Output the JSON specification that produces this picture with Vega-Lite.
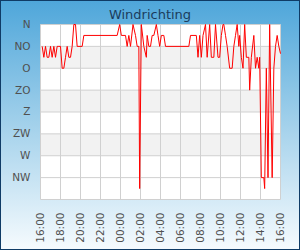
{
  "$schema": "https://vega.github.io/schema/vega-lite/v6.json",
  "width": 300,
  "height": 250,
  "autosize": {"type": "none"},
  "padding": 0,
  "background": "#a6d2ec",
  "view": {
    "fill": {"gradient": "linear", "x1": 0, "y1": 0, "x2": 0, "y2": 1,
      "stops": [{"offset": 0, "color": "#4ea6da"}, {"offset": 0.5, "color": "#a3d1eb"}, {"offset": 1, "color": "#f6fbfe"}]},
    "stroke": "#0f3b66",
    "strokeWidth": 2
  },
  "title": {"text": "Windrichting", "font": "DejaVu Sans", "fontSize": 13, "fontWeight": "normal", "color": "#1b3c5c", "anchor": "middle", "frame": "group", "offset": -32, "baseline": "alphabetic"},
  "config": {
    "axisX": {
      "orient": "bottom", "offset": -50, "domain": false, "ticks": false, "grid": false,
      "labelAngle": 270, "labelAlign": "right", "labelBaseline": "middle",
      "labelPadding": 12, "labelFont": "DejaVu Sans", "labelFontSize": 10.5, "labelColor": "#505050",
      "labelOverlap": false, "labelFlush": false
    },
    "axisY": {
      "orient": "left", "offset": -40, "domain": false, "ticks": false, "grid": false,
      "labelAlign": "right", "labelBaseline": "middle",
      "labelPadding": 10, "labelFont": "DejaVu Sans", "labelFontSize": 10.5, "labelColor": "#505050",
      "labelOverlap": false, "labelFlush": false
    }
  },
  "datasets": {
    "wind": [
      {"time": "2024-05-01T16:10:00Z", "richting": 45},
      {"time": "2024-05-01T16:20:00Z", "richting": 67.5},
      {"time": "2024-05-01T16:30:00Z", "richting": 45},
      {"time": "2024-05-01T16:40:00Z", "richting": 67.5},
      {"time": "2024-05-01T16:50:00Z", "richting": 67.5},
      {"time": "2024-05-01T17:00:00Z", "richting": 45},
      {"time": "2024-05-01T17:10:00Z", "richting": 67.5},
      {"time": "2024-05-01T17:20:00Z", "richting": 45},
      {"time": "2024-05-01T17:30:00Z", "richting": 67.5},
      {"time": "2024-05-01T17:40:00Z", "richting": 45},
      {"time": "2024-05-01T17:50:00Z", "richting": 45},
      {"time": "2024-05-01T18:00:00Z", "richting": 45},
      {"time": "2024-05-01T18:10:00Z", "richting": 90},
      {"time": "2024-05-01T18:20:00Z", "richting": 90},
      {"time": "2024-05-01T18:30:00Z", "richting": 67.5},
      {"time": "2024-05-01T18:40:00Z", "richting": 45},
      {"time": "2024-05-01T18:50:00Z", "richting": 67.5},
      {"time": "2024-05-01T19:00:00Z", "richting": 67.5},
      {"time": "2024-05-01T19:10:00Z", "richting": 45},
      {"time": "2024-05-01T19:20:00Z", "richting": 0},
      {"time": "2024-05-01T19:30:00Z", "richting": 0},
      {"time": "2024-05-01T19:40:00Z", "richting": 45},
      {"time": "2024-05-01T20:10:00Z", "richting": 45},
      {"time": "2024-05-01T20:20:00Z", "richting": 22.5},
      {"time": "2024-05-01T23:40:00Z", "richting": 22.5},
      {"time": "2024-05-01T23:55:00Z", "richting": 0},
      {"time": "2024-05-02T00:05:00Z", "richting": 22.5},
      {"time": "2024-05-02T00:30:00Z", "richting": 22.5},
      {"time": "2024-05-02T00:40:00Z", "richting": 45},
      {"time": "2024-05-02T00:50:00Z", "richting": 22.5},
      {"time": "2024-05-02T01:00:00Z", "richting": 45},
      {"time": "2024-05-02T01:15:00Z", "richting": 0},
      {"time": "2024-05-02T01:30:00Z", "richting": 22.5},
      {"time": "2024-05-02T01:40:00Z", "richting": 45},
      {"time": "2024-05-02T01:50:00Z", "richting": 45},
      {"time": "2024-05-02T01:55:00Z", "richting": 337.5},
      {"time": "2024-05-02T02:05:00Z", "richting": 0},
      {"time": "2024-05-02T02:20:00Z", "richting": 45},
      {"time": "2024-05-02T02:35:00Z", "richting": 67.5},
      {"time": "2024-05-02T02:40:00Z", "richting": 22.5},
      {"time": "2024-05-02T02:50:00Z", "richting": 45},
      {"time": "2024-05-02T03:00:00Z", "richting": 45},
      {"time": "2024-05-02T03:10:00Z", "richting": 22.5},
      {"time": "2024-05-02T03:20:00Z", "richting": 22.5},
      {"time": "2024-05-02T03:35:00Z", "richting": 0},
      {"time": "2024-05-02T03:45:00Z", "richting": 22.5},
      {"time": "2024-05-02T03:55:00Z", "richting": 45},
      {"time": "2024-05-02T04:05:00Z", "richting": 22.5},
      {"time": "2024-05-02T04:20:00Z", "richting": 22.5},
      {"time": "2024-05-02T04:30:00Z", "richting": 45},
      {"time": "2024-05-02T06:50:00Z", "richting": 45},
      {"time": "2024-05-02T07:00:00Z", "richting": 22.5},
      {"time": "2024-05-02T07:35:00Z", "richting": 22.5},
      {"time": "2024-05-02T07:45:00Z", "richting": 67.5},
      {"time": "2024-05-02T07:55:00Z", "richting": 22.5},
      {"time": "2024-05-02T08:05:00Z", "richting": 67.5},
      {"time": "2024-05-02T08:15:00Z", "richting": 22.5},
      {"time": "2024-05-02T08:30:00Z", "richting": 0},
      {"time": "2024-05-02T08:40:00Z", "richting": 67.5},
      {"time": "2024-05-02T08:55:00Z", "richting": 0},
      {"time": "2024-05-02T09:05:00Z", "richting": 67.5},
      {"time": "2024-05-02T09:20:00Z", "richting": 67.5},
      {"time": "2024-05-02T09:30:00Z", "richting": 0},
      {"time": "2024-05-02T09:45:00Z", "richting": 67.5},
      {"time": "2024-05-02T09:55:00Z", "richting": 67.5},
      {"time": "2024-05-02T10:05:00Z", "richting": 22.5},
      {"time": "2024-05-02T10:15:00Z", "richting": 0},
      {"time": "2024-05-02T10:20:00Z", "richting": 0},
      {"time": "2024-05-02T10:30:00Z", "richting": 22.5},
      {"time": "2024-05-02T10:40:00Z", "richting": 45},
      {"time": "2024-05-02T10:55:00Z", "richting": 90},
      {"time": "2024-05-02T11:10:00Z", "richting": 90},
      {"time": "2024-05-02T11:20:00Z", "richting": 45},
      {"time": "2024-05-02T11:30:00Z", "richting": 22.5},
      {"time": "2024-05-02T11:40:00Z", "richting": 0},
      {"time": "2024-05-02T11:50:00Z", "richting": 45},
      {"time": "2024-05-02T11:55:00Z", "richting": 22.5},
      {"time": "2024-05-02T12:05:00Z", "richting": 67.5},
      {"time": "2024-05-02T12:15:00Z", "richting": 90},
      {"time": "2024-05-02T12:25:00Z", "richting": 0},
      {"time": "2024-05-02T12:35:00Z", "richting": 67.5},
      {"time": "2024-05-02T12:50:00Z", "richting": 67.5},
      {"time": "2024-05-02T12:55:00Z", "richting": 135},
      {"time": "2024-05-02T13:05:00Z", "richting": 67.5},
      {"time": "2024-05-02T13:20:00Z", "richting": 22.5},
      {"time": "2024-05-02T13:30:00Z", "richting": 90},
      {"time": "2024-05-02T13:40:00Z", "richting": 67.5},
      {"time": "2024-05-02T13:50:00Z", "richting": 90},
      {"time": "2024-05-02T13:55:00Z", "richting": 67.5},
      {"time": "2024-05-02T14:05:00Z", "richting": 315},
      {"time": "2024-05-02T14:20:00Z", "richting": 315},
      {"time": "2024-05-02T14:25:00Z", "richting": 337.5},
      {"time": "2024-05-02T14:35:00Z", "richting": 90},
      {"time": "2024-05-02T14:45:00Z", "richting": 315},
      {"time": "2024-05-02T14:55:00Z", "richting": 0},
      {"time": "2024-05-02T15:10:00Z", "richting": 315},
      {"time": "2024-05-02T15:20:00Z", "richting": 90},
      {"time": "2024-05-02T15:30:00Z", "richting": 45},
      {"time": "2024-05-02T15:40:00Z", "richting": 22.5},
      {"time": "2024-05-02T15:50:00Z", "richting": 45},
      {"time": "2024-05-02T16:00:00Z", "richting": 60}
    ],
    "hours": [
      {"t": "2024-05-01T16:00:00Z"}, {"t": "2024-05-01T18:00:00Z"}, {"t": "2024-05-01T20:00:00Z"},
      {"t": "2024-05-01T22:00:00Z"}, {"t": "2024-05-02T00:00:00Z"}, {"t": "2024-05-02T02:00:00Z"},
      {"t": "2024-05-02T04:00:00Z"}, {"t": "2024-05-02T06:00:00Z"}, {"t": "2024-05-02T08:00:00Z"},
      {"t": "2024-05-02T10:00:00Z"}, {"t": "2024-05-02T12:00:00Z"}, {"t": "2024-05-02T14:00:00Z"},
      {"t": "2024-05-02T16:00:00Z"}
    ],
    "compass": [
      {"deg": 0}, {"deg": 45}, {"deg": 90}, {"deg": 135}, {"deg": 180},
      {"deg": 225}, {"deg": 270}, {"deg": 315}, {"deg": 360}
    ],
    "bands": [
      {"from": 45, "to": 90}, {"from": 135, "to": 180}, {"from": 225, "to": 270}
    ]
  },
  "layer": [
    {
      "data": {"values": [{}]},
      "mark": {"type": "rect", "fill": "#ffffff"},
      "encoding": {
        "x": {"datum": {"year": 2024, "month": 5, "date": 1, "hours": 16, "utc": true}, "type": "temporal",
          "scale": {"type": "utc", "domain": [{"year": 2024, "month": 5, "date": 1, "hours": 11, "minutes": 57, "utc": true}, {"year": 2024, "month": 5, "date": 2, "hours": 17, "minutes": 57, "utc": true}], "nice": false},
          "axis": {"title": null, "format": "%H:%M", "values": [1714579200000, 1714586400000, 1714593600000, 1714600800000, 1714608000000, 1714615200000, 1714622400000, 1714629600000, 1714636800000, 1714644000000, 1714651200000, 1714658400000, 1714665600000]}},
        "x2": {"datum": {"year": 2024, "month": 5, "date": 2, "hours": 16, "utc": true}},
        "y": {"datum": 0, "type": "quantitative",
          "scale": {"domain": [-50.4, 463.886], "reverse": true, "nice": false, "zero": false},
          "axis": {"title": null, "values": [0, 45, 90, 135, 180, 225, 270, 315],
            "labelExpr": "datum.value == 0 ? 'N' : datum.value == 45 ? 'NO' : datum.value == 90 ? 'O' : datum.value == 135 ? 'ZO' : datum.value == 180 ? 'Z' : datum.value == 225 ? 'ZW' : datum.value == 270 ? 'W' : 'NW'"}},
        "y2": {"datum": 360}
      }
    },
    {
      "data": {"name": "bands"},
      "mark": {"type": "rect", "fill": "#f2f2f2"},
      "encoding": {
        "x": {"datum": {"year": 2024, "month": 5, "date": 1, "hours": 16, "utc": true}, "type": "temporal",
          "axis": {"title": null, "format": "%H:%M", "values": [1714579200000, 1714586400000, 1714593600000, 1714600800000, 1714608000000, 1714615200000, 1714622400000, 1714629600000, 1714636800000, 1714644000000, 1714651200000, 1714658400000, 1714665600000]}},
        "x2": {"datum": {"year": 2024, "month": 5, "date": 2, "hours": 16, "utc": true}},
        "y": {"field": "from", "type": "quantitative",
          "axis": {"title": null, "values": [0, 45, 90, 135, 180, 225, 270, 315],
            "labelExpr": "datum.value == 0 ? 'N' : datum.value == 45 ? 'NO' : datum.value == 90 ? 'O' : datum.value == 135 ? 'ZO' : datum.value == 180 ? 'Z' : datum.value == 225 ? 'ZW' : datum.value == 270 ? 'W' : 'NW'"}},
        "y2": {"field": "to"}
      }
    },
    {
      "data": {"name": "compass"},
      "mark": {"type": "rule", "stroke": "#d0d0d0", "strokeWidth": 1},
      "encoding": {
        "x": {"datum": {"year": 2024, "month": 5, "date": 1, "hours": 16, "utc": true}, "type": "temporal",
          "axis": {"title": null, "format": "%H:%M", "values": [1714579200000, 1714586400000, 1714593600000, 1714600800000, 1714608000000, 1714615200000, 1714622400000, 1714629600000, 1714636800000, 1714644000000, 1714651200000, 1714658400000, 1714665600000]}},
        "x2": {"datum": {"year": 2024, "month": 5, "date": 2, "hours": 16, "utc": true}},
        "y": {"field": "deg", "type": "quantitative",
          "axis": {"title": null, "values": [0, 45, 90, 135, 180, 225, 270, 315],
            "labelExpr": "datum.value == 0 ? 'N' : datum.value == 45 ? 'NO' : datum.value == 90 ? 'O' : datum.value == 135 ? 'ZO' : datum.value == 180 ? 'Z' : datum.value == 225 ? 'ZW' : datum.value == 270 ? 'W' : 'NW'"}}
      }
    },
    {
      "data": {"name": "hours"},
      "mark": {"type": "rule", "stroke": "#d0d0d0", "strokeWidth": 1},
      "encoding": {
        "x": {"field": "t", "type": "temporal",
          "axis": {"title": null, "format": "%H:%M", "values": [1714579200000, 1714586400000, 1714593600000, 1714600800000, 1714608000000, 1714615200000, 1714622400000, 1714629600000, 1714636800000, 1714644000000, 1714651200000, 1714658400000, 1714665600000]}},
        "y": {"datum": 0, "type": "quantitative",
          "axis": {"title": null, "values": [0, 45, 90, 135, 180, 225, 270, 315],
            "labelExpr": "datum.value == 0 ? 'N' : datum.value == 45 ? 'NO' : datum.value == 90 ? 'O' : datum.value == 135 ? 'ZO' : datum.value == 180 ? 'Z' : datum.value == 225 ? 'ZW' : datum.value == 270 ? 'W' : 'NW'"}},
        "y2": {"datum": 360}
      }
    },
    {
      "data": {"name": "wind"},
      "mark": {"type": "line", "color": "#ff0000", "strokeWidth": 1},
      "encoding": {
        "x": {"field": "time", "type": "temporal",
          "axis": {"title": null, "format": "%H:%M", "values": [1714579200000, 1714586400000, 1714593600000, 1714600800000, 1714608000000, 1714615200000, 1714622400000, 1714629600000, 1714636800000, 1714644000000, 1714651200000, 1714658400000, 1714665600000]}},
        "y": {"field": "richting", "type": "quantitative",
          "axis": {"title": null, "values": [0, 45, 90, 135, 180, 225, 270, 315],
            "labelExpr": "datum.value == 0 ? 'N' : datum.value == 45 ? 'NO' : datum.value == 90 ? 'O' : datum.value == 135 ? 'ZO' : datum.value == 180 ? 'Z' : datum.value == 225 ? 'ZW' : datum.value == 270 ? 'W' : 'NW'"}}
      }
    }
  ]
}
